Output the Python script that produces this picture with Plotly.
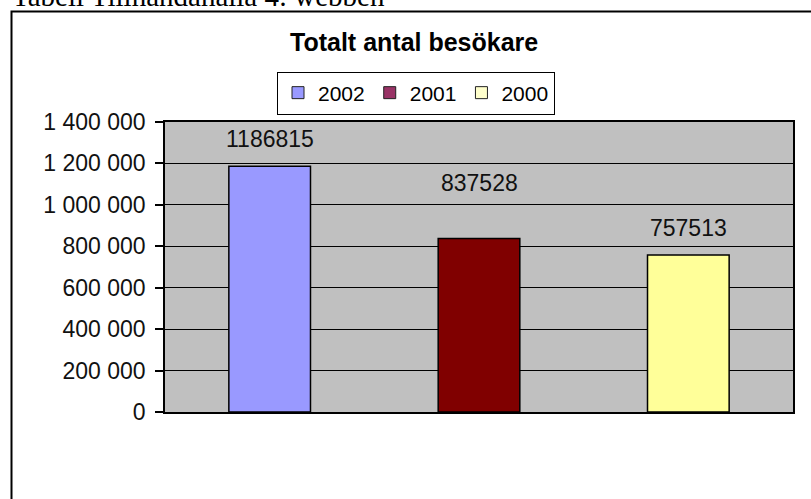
import plotly.graph_objects as go

# ---- data ----
series_names = ["2002", "2001", "2000"]
visitors = [1186815, 837528, 757513]
bar_colors = ["#9999FF", "#800000", "#FFFF99"]
legend_colors = ["#9999FF", "#993366", "#FFFFCC"]
y_ticks = [0, 200000, 400000, 600000, 800000, 1000000, 1200000, 1400000]

# page pixels (body margin removed below via post_script)
W, H = 811, 499
PL, PR, PT, PB = 165, 793, 122, 412          # plot area in page pixels
L, T, R, B = PL, PT, W - PR, H - PB
pw, ph = PR - PL, PB - PT

def px_x(x):
    return (x - PL) / pw

def px_y(y):
    return 1 + (PT - y) / ph

fig = go.Figure()
for i, (name, v, c) in enumerate(zip(series_names, visitors, bar_colors)):
    fig.add_trace(go.Bar(
        x=[i], y=[v], name=name, width=0.39, showlegend=False,
        marker=dict(color=c, line=dict(color="black", width=1.5)),
    ))
for name, c in zip(series_names, legend_colors):
    fig.add_trace(go.Bar(
        x=[None], y=[None], name=name, showlegend=True,
        marker=dict(color=c, line=dict(color="#222222", width=1)),
    ))

label_shift = [27, 56, 27]
for i, v in enumerate(visitors):
    fig.add_annotation(x=i, y=v, xref="x", yref="y", text=str(v), showarrow=False,
                       yanchor="middle", yshift=label_shift[i],
                       font=dict(family="Arial, Liberation Sans", size=23, color="#111111"))

# chart title
fig.add_annotation(x=px_x(414), y=px_y(42), xref="paper", yref="paper",
                   text="<b>Totalt antal besökare</b>", showarrow=False,
                   xanchor="center", yanchor="middle",
                   font=dict(family="Arial, Liberation Sans", size=25, color="black"))
# header text (partly cut off above, as in the source page)
fig.add_annotation(x=px_x(10), y=px_y(-4.5), xref="paper", yref="paper",
                   text="Tabell Tillhandahålla 4: webben", showarrow=False,
                   xanchor="left", yanchor="middle",
                   font=dict(family="Liberation Serif, Times New Roman", size=29, color="black"))

# outer chart border
fig.add_shape(type="rect", xref="paper", yref="paper",
              x0=px_x(11.5), y0=px_y(11.5), x1=px_x(840), y1=px_y(540),
              line=dict(color="black", width=2), fillcolor="rgba(0,0,0,0)", layer="above")

fig.update_layout(
    width=W, height=H,
    margin=dict(l=L, r=R, t=T, b=B, autoexpand=False),
    paper_bgcolor="white", plot_bgcolor="#C0C0C0",
    barmode="overlay", separators=". ",
    font=dict(family="Arial, Liberation Sans", size=22, color="#111111"),
    legend=dict(orientation="h", x=px_x(416), y=px_y(93), xanchor="center", yanchor="middle",
                bordercolor="black", borderwidth=1, bgcolor="white",
                font=dict(size=21, color="black"), itemwidth=30,
                tracegroupgap=0, traceorder="normal"),
    xaxis=dict(range=[-0.5, 2.5], showticklabels=False, ticks="", showgrid=False,
               showline=True, linecolor="black", linewidth=1.5, mirror=True, zeroline=False),
    yaxis=dict(range=[0, 1400000], tickvals=y_ticks, tickformat=",d",
               ticks="outside", ticklen=8, tickcolor="black", tickwidth=1.5,
               ticklabelstandoff=5,
               showgrid=True, gridcolor="black", gridwidth=1,
               showline=True, linecolor="black", linewidth=1.5, mirror=True, zeroline=False,
               tickfont=dict(size=23, color="#111111")),
    showlegend=True,
)

fig.write_html("out.html", config={"displayModeBar": False},
               post_script="document.body.style.margin='0';")
